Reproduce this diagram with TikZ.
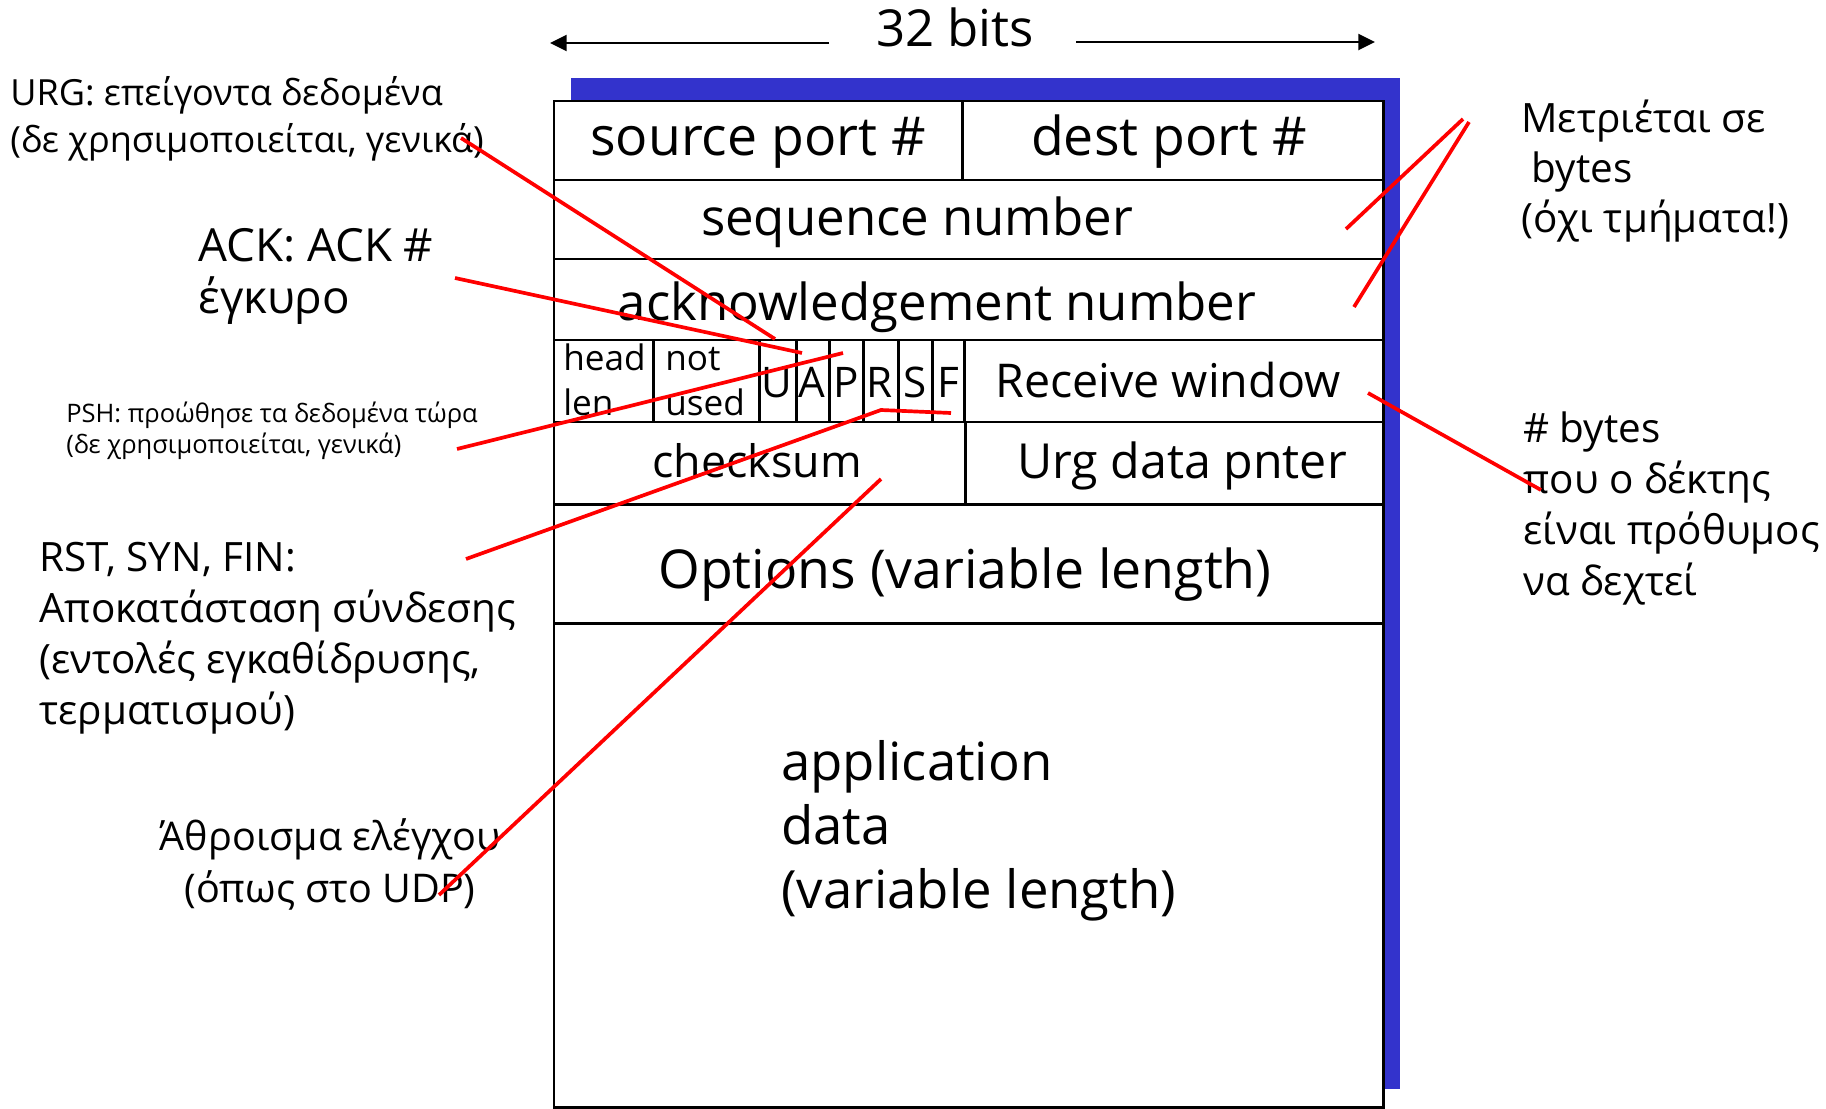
\documentclass[tikz,border=0pt]{standalone}
\usepackage{fontspec}
\setmainfont{Open Sans}
\usetikzlibrary{arrows.meta}
\definecolor{shadowblue}{RGB}{51,51,204}
\definecolor{notered}{RGB}{255,0,0}
\tikzset{
  tblline/.style={line width=1.7pt, draw=black},
  bigtxt/.style={anchor=base, inner sep=0pt, font=\fontsize{29}{35}\selectfont},
  midtxt/.style={anchor=base, inner sep=0pt, font=\fontsize{25.5}{30}\selectfont},
  smalltxt/.style={anchor=base west, inner sep=0pt, font=\fontsize{20}{24}\selectfont},
  flagtxt/.style={anchor=base, inner sep=0pt, font=\fontsize{24}{28}\selectfont},
  datatxt/.style={anchor=base west, inner sep=0pt, align=left,
              font=\fontsize{30}{36.3}\selectfont},
  notetxt/.style={anchor=base west, inner sep=0pt, align=left,
              font=\fontsize{23}{28.9}\selectfont},
  redline/.style={draw=notered, line width=2.1pt},
  bitarrow/.style={-{Triangle[length=9.5pt, width=9pt]}, line width=1.7pt},
}

\begin{document}
\begin{tikzpicture}[x=0.02cm, y=-0.02cm]
  \useasboundingbox (0,0) rectangle (1826,1109);
  % Width marker
  \node[bigtxt] (bits) at (955,46) {32 bits};
  \coordinate (bitsLa) at (829,43);
  \coordinate (bitsLb) at (550,43);
  \coordinate (bitsRa) at (1076,42);
  \coordinate (bitsRb) at (1375,42);
  \draw[bitarrow] (bitsLa) -- (bitsLb);
  \draw[bitarrow] (bitsRa) -- (bitsRb);
  % Segment frame with shadow
  \fill[shadowblue] (571,78) rectangle (1400,1089);
  \filldraw[fill=white, tblline] (554,101) rectangle (1383,1107);
  \foreach \ry in {180,259,340,422,504,623}{
    \draw[tblline] (554,\ry) -- (1383,\ry);
  }
  \draw[tblline] (962,101) -- (962,180);
  \foreach \cx in {653,759,796,829,863,898,932,964}{
    \draw[tblline] (\cx,340) -- (\cx,422);
  }
  \draw[tblline] (965,422) -- (965,504);
  % Header fields
  \node[bigtxt, font=\fontsize{30.5}{35}\selectfont] (srcport) at (758,155) {source port \#};
  \node[bigtxt, font=\fontsize{30.5}{35}\selectfont] (dstport) at (1169,155) {dest port \#};
  \node[bigtxt] (seqnum) at (917,235) {sequence number};
  \node[bigtxt] (acknum) at (937,320) {acknowledgement number};
  \node[smalltxt] (hlenA) at (563,370) {head};
  \node[smalltxt] (hlenB) at (563,415) {len};
  \node[smalltxt] (unusedA) at (665,370) {not};
  \node[smalltxt] (unusedB) at (665,415) {used};
  \foreach \fl/\fx in {U/777,A/812,P/846,R/880,S/915,F/948}{
    \node[flagtxt] (flag\fl) at (\fx,397) {\fl};
  }
  \node[midtxt, font=\fontsize{26.5}{30}\selectfont] (rwnd) at (1168,397) {Receive window};
  \node[midtxt] (csum) at (757,477) {checksum};
  \node[midtxt, font=\fontsize{27.5}{30}\selectfont] (urgptr) at (1182,478) {Urg data pnter};
  \node[bigtxt, font=\fontsize{30.5}{35}\selectfont] (opts) at (965,588) {Options (variable length)};
  \node[datatxt] (appdata) at (781,908) {application\\data\\(variable length)};
  % Notes on the left
  \node[notetxt, font=\fontsize{20.5}{26.6}\selectfont] (urgnote) at (10,152)
    {URG: επείγοντα δεδομένα\\(δε χρησιμοποιείται, γενικά)};
  \node[notetxt, font=\fontsize{26}{29.5}\selectfont] (acknote) at (198,313)
    {ACK: ACK \#\\έγκυρο};
  \node[notetxt, font=\fontsize{14.5}{17.6}\selectfont] (pshnote) at (66,453)
    {PSH: προώθησε τα δεδομένα τώρα\\(δε χρησιμοποιείται, γενικά)};
  \node[notetxt] (rstnote) at (39,724)
    {RST, SYN, FIN:\\Αποκατάσταση σύνδεσης\\(εντολές εγκαθίδρυσης,\\τερματισμού)};
  \node[notetxt, anchor=base, align=center, font=\fontsize{22.5}{29.5}\selectfont]
    (csumnote) at (330,902) {Άθροισμα ελέγχου\\(όπως στο UDP)};
  % Notes on the right
  \node[notetxt, font=\fontsize{23}{28.3}\selectfont] (seqnote) at (1521,232)
    {Μετριέται σε\\\ bytes\\(όχι τμήματα!)};
  \node[notetxt] (rwndnote) at (1523,595)
    {\# bytes\\που ο δέκτης\\είναι πρόθυμος\\να δεχτεί};
  % Pointer lines
  \coordinate (urgfrom) at (461,138);   \coordinate (urgto) at (775,339);
  \coordinate (ackfrom) at (455,278);   \coordinate (ackto) at (802,353);
  \coordinate (pshfrom) at (457,449);   \coordinate (pshto) at (843,353);
  \coordinate (rstfrom) at (466,559);   \coordinate (rstbend) at (881,410);
  \coordinate (rstto) at (951,413);
  \coordinate (csumfrom) at (439,895);  \coordinate (csumto) at (881,479);
  \coordinate (seqfrom) at (1463,119);  \coordinate (seqto) at (1346,229);
  \coordinate (ackfrom2) at (1469,122); \coordinate (ackto2) at (1354,307);
  \coordinate (rwndfrom) at (1368,393); \coordinate (rwndto) at (1541,490);
  \draw[redline] (urgfrom) -- (urgto);
  \draw[redline] (ackfrom) -- (ackto);
  \draw[redline] (pshfrom) -- (pshto);
  \draw[redline] (rstfrom) -- (rstbend) -- (rstto);
  \draw[redline] (csumfrom) -- (csumto);
  \draw[redline] (seqfrom) -- (seqto);
  \draw[redline] (ackfrom2) -- (ackto2);
  \draw[redline] (rwndfrom) -- (rwndto);
\end{tikzpicture}
\end{document}
